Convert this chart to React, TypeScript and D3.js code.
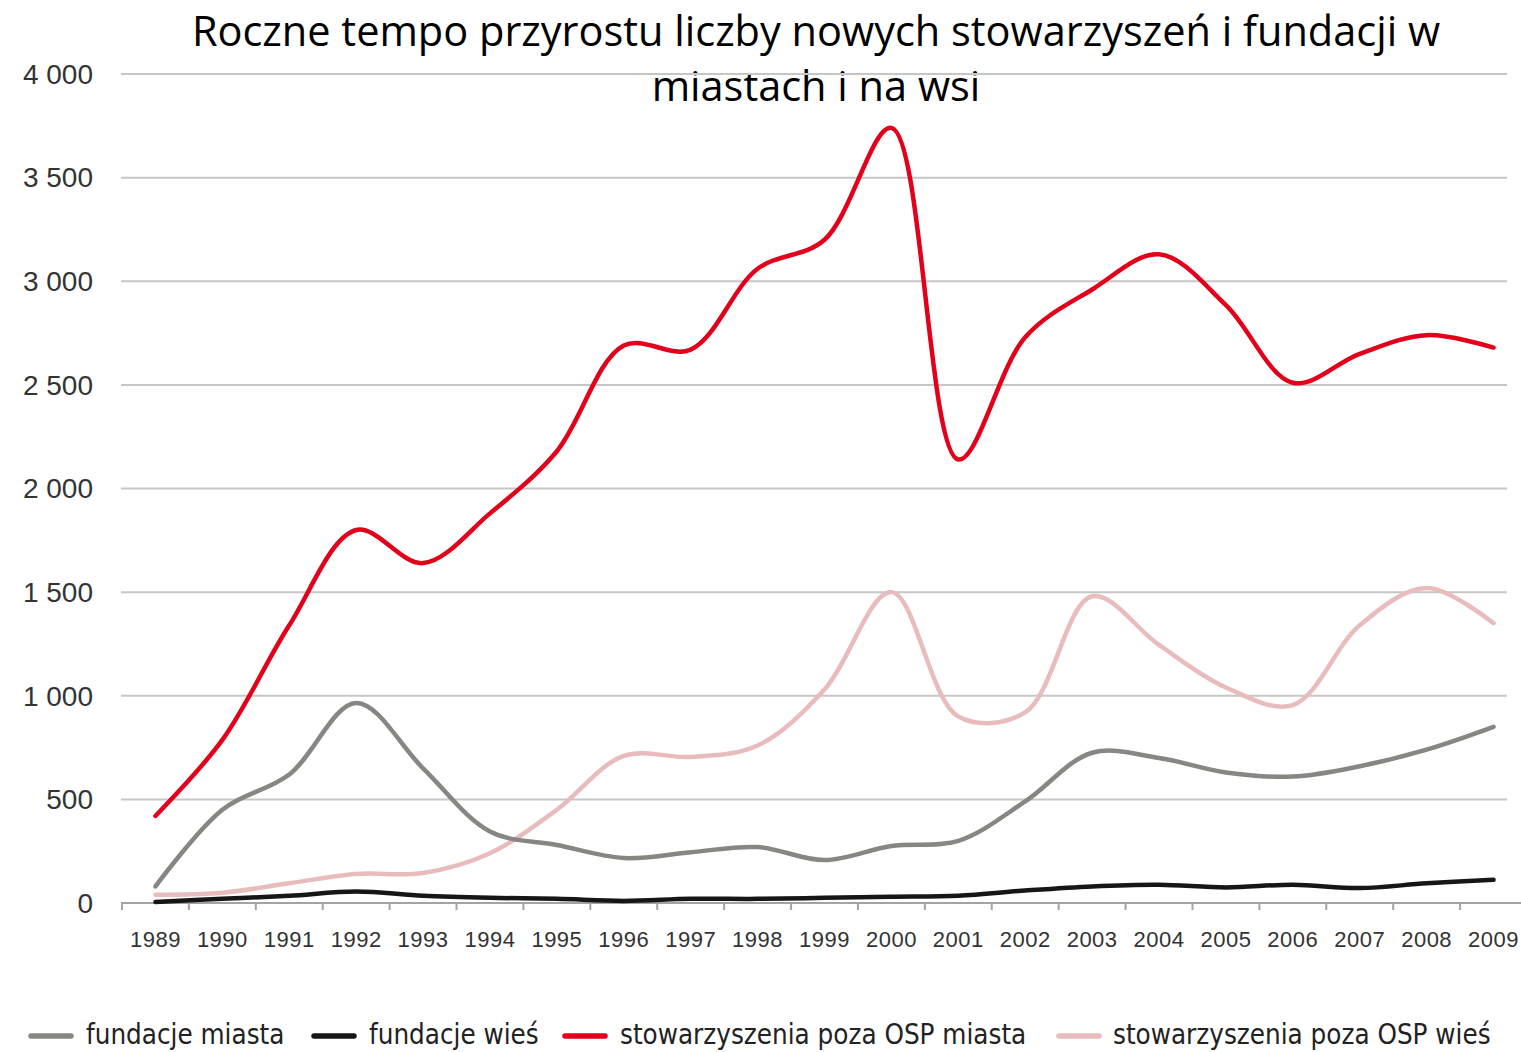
import React, { useEffect, useRef } from 'react'
import * as d3 from 'd3'

const years = [
  '1989', '1990', '1991', '1992', '1993', '1994', '1995', '1996', '1997', '1998', '1999',
  '2000', '2001', '2002', '2003', '2004', '2005', '2006', '2007', '2008', '2009'
]

const fundacjeMiasta = [80, 450, 620, 965, 650, 345, 280, 217, 245, 270, 207, 275, 300, 490, 725, 700, 630, 610, 660, 740, 850]
const fundacjeWies = [5, 20, 35, 55, 35, 25, 20, 10, 20, 20, 25, 30, 35, 60, 80, 88, 75, 88, 72, 95, 112]
const stowMiasta = [420, 787, 1340, 1800, 1640, 1880, 2180, 2690, 2670, 3060, 3200, 3740, 2140, 2730, 2960, 3130, 2885, 2510, 2650, 2740, 2680]
const stowWies = [40, 50, 95, 140, 145, 240, 450, 710, 705, 760, 1030, 1500, 900, 920, 1480, 1245, 1040, 955, 1340, 1520, 1350]

const yTicks = [0, 500, 1000, 1500, 2000, 2500, 3000, 3500, 4000]

const seriesNames = ['fundacje miasta', 'fundacje wieś', 'stowarzyszenia poza OSP miasta', 'stowarzyszenia poza OSP wieś']
const seriesColors = ['#868783', '#161616', '#e2001a', '#e8bcbc']

const App = () => {
  const svgRef = useRef<SVGSVGElement>(null)

  useEffect(() => {
    if (!svgRef.current) return
    const width = 1521
    const height = 1052

    const svg = d3.select(svgRef.current)
    svg.selectAll('*').remove()
    svg.attr('width', width).attr('height', height)

    const x = d3.scaleBand().domain(years).range([122, 1527]).padding(0)
    const y = d3.scaleLinear().domain([0, 4000]).range([903, 74])
    const cx = (yr: string) => (x(yr) as number) + x.bandwidth() / 2

    // title
    const title = svg.append('text')
      .attr('text-anchor', 'middle')
      .style('font-family', '"Open Sans", sans-serif')
      .style('font-size', '41.5px')
      .style('fill', '#000')
    title.append('tspan').attr('x', 816).attr('y', 46)
      .text('Roczne tempo przyrostu liczby nowych stowarzyszeń i fundacji w')
    title.append('tspan').attr('x', 816).attr('y', 101)
      .text('miastach i na wsi')

    // gridlines
    svg.append('g')
      .selectAll('line')
      .data(yTicks.filter(d => d > 0))
      .enter()
      .append('line')
      .attr('x1', 121)
      .attr('x2', 1507)
      .attr('y1', d => y(d))
      .attr('y2', d => y(d))
      .style('stroke', '#c6c6c6')
      .style('stroke-width', 2)

    // y labels
    svg.append('g')
      .selectAll('text')
      .data(yTicks)
      .enter()
      .append('text')
      .attr('x', 93)
      .attr('y', d => y(d))
      .attr('dy', '0.35em')
      .attr('text-anchor', 'end')
      .style('font-family', '"Liberation Sans", Arial, sans-serif')
      .style('font-size', '28px')
      .style('fill', '#333')
      .text(d => d3.format(',')(d).replace(',', ' '))

    // x axis
    const axis = svg.append('g')
    axis.append('line')
      .attr('x1', 121)
      .attr('x2', 1521)
      .attr('y1', 903)
      .attr('y2', 903)
      .style('stroke', '#a3a3a3')
      .style('stroke-width', 2)
    axis.selectAll('.tick')
      .data(years)
      .enter()
      .append('line')
      .attr('x1', d => x(d) as number)
      .attr('x2', d => x(d) as number)
      .attr('y1', 903)
      .attr('y2', 910)
      .style('stroke', '#a3a3a3')
      .style('stroke-width', 2)
    axis.selectAll('text')
      .data(years)
      .enter()
      .append('text')
      .attr('x', d => cx(d))
      .attr('y', 947)
      .attr('text-anchor', 'middle')
      .style('font-family', '"Liberation Sans", Arial, sans-serif')
      .style('font-size', '22px')
      .style('letter-spacing', '0.5px')
      .style('fill', '#333')
      .text(d => d)

    // lines
    const allSeries = [fundacjeMiasta, fundacjeWies, stowMiasta, stowWies]
    const line = d3.line<number>()
      .x((d, i) => cx(years[i]))
      .y(d => y(d))
      .curve(d3.curveCatmullRom.alpha(0.5))

    const drawOrder = [3, 0, 1, 2]
    drawOrder.forEach(si => {
      svg.append('path')
        .attr('d', line(allSeries[si]))
        .style('fill', 'none')
        .style('stroke', seriesColors[si])
        .style('stroke-width', 4.5)
        .style('stroke-linecap', 'round')
        .style('stroke-linejoin', 'round')
    })

    // legend
    const swatchX = [29, 312, 563, 1057]
    const labelX = [86, 369, 620, 1113]
    const legend = svg.append('g')
    seriesNames.forEach((name, i) => {
      legend.append('line')
        .attr('x1', swatchX[i] + 2)
        .attr('x2', swatchX[i] + 42)
        .attr('y1', 1036)
        .attr('y2', 1036)
        .style('stroke', seriesColors[i])
        .style('stroke-width', 5.5)
        .style('stroke-linecap', 'round')
      legend.append('text')
        .attr('x', labelX[i])
        .attr('y', 1044)
        .style('font-family', '"DejaVu Sans Condensed", "DejaVu Sans", sans-serif')
        .style('font-stretch', 'condensed')
        .style('font-size', '27.5px')
        .style('fill', '#222')
        .text(name)
    })
  }, [])

  return (
    <div style={{ position: 'absolute', left: 0, top: 0 }}>
      <svg ref={svgRef} style={{ display: 'block', background: '#fff' }} />
    </div>
  )
}

export default App
